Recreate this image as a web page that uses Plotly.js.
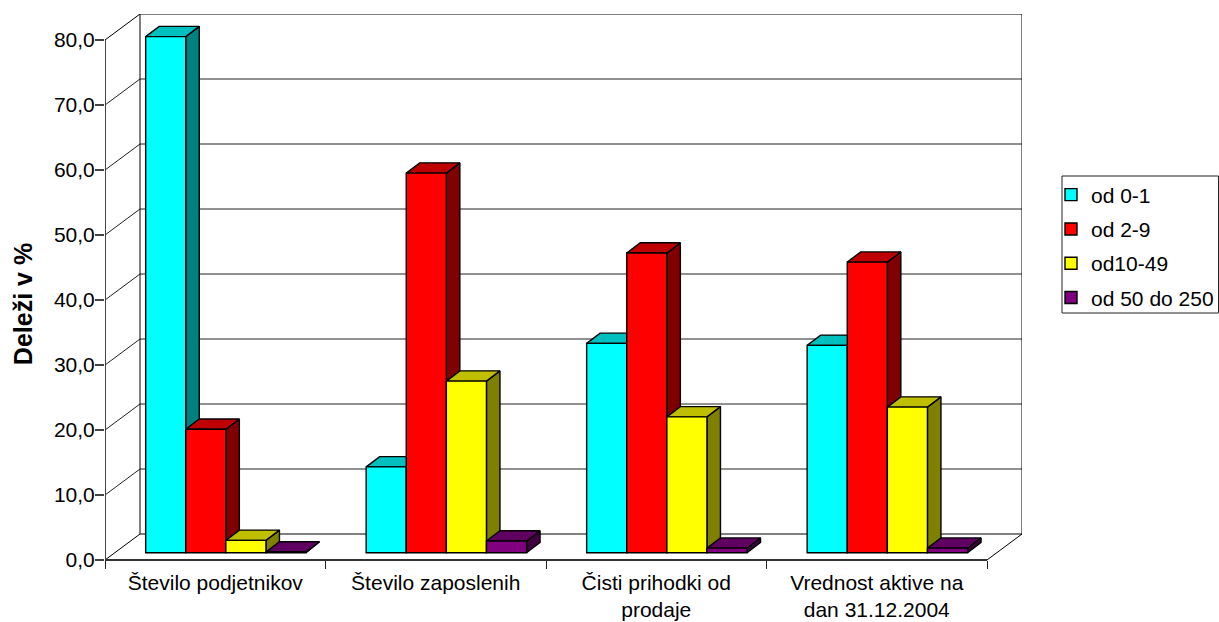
<!DOCTYPE html>
<html>
<head>
<meta charset="utf-8">
<script src="https://cdn.plot.ly/plotly-3.0.1.min.js"></script>
<style>html,body{margin:0;padding:0;background:#fff}#chart{width:1219px;height:622px}</style>
</head>
<body>
<div id="chart"></div>
<script>
const categories = ['Število podjetnikov', 'Število zaposlenih', 'Čisti prihodki od<br>prodaje', 'Vrednost aktive na<br>dan 31.12.2004'];
const seriesNames = ['od 0-1', 'od 2-9', 'od10-49', 'od 50 do 250'];
const od0_1 = [79.4, 13.2, 32.2, 31.9];
const od2_9 = [19.0, 58.4, 46.1, 44.7];
const od10_49 = [1.9, 26.4, 20.9, 22.4];
const od50_250 = [0.1, 1.8, 0.7, 0.7];
const yTicks = [0, 10, 20, 30, 40, 50, 60, 70, 80];
const faceColors = ['#00FFFF', '#FF0000', '#FFFF00', '#800080'];
const topColors = ['#00BFBF', '#BF0000', '#BFBF00', '#600060'];
const sideColors = ['#008080', '#800000', '#808000', '#400040'];
const values = [od0_1, od2_9, od10_49, od50_250];

// Projection of the fake 3D box, in axis units
const WALL_DX = 35 / 220.5, WALL_DY = 4;
const BAR_DX = 13.5 / 220.5, BAR_DY = 1.58;
const BAR_W = 40.1 / 220.5, BAR_BASE = 1.12, BAR_SHIFT = 10.6 / 220.5;
const XL = -0.5, XR = 3.5, YMAX = 80;
const Y_BELOW = 34 / 6.5; // blank range below zero, centres the axis title where the reference has it
const black = '#000';

const traces = [];
function poly(xs, ys, fill, lw) {
  traces.push({type: 'scatter', mode: 'lines', x: xs, y: ys, fill: 'toself', fillcolor: fill,
    line: {color: black, width: lw}, hoverinfo: 'skip', showlegend: false, xaxis: 'x', yaxis: 'y'});
}
function wire(xs, ys, lw, color) {
  traces.push({type: 'scatter', mode: 'lines', x: xs, y: ys,
    line: {color: color || black, width: lw}, hoverinfo: 'skip', showlegend: false, xaxis: 'x', yaxis: 'y'});
}
// gridlines: up the left wall, then along the back wall
yTicks.forEach(v => {
  if (v === 0 || v === YMAX) return;
  wire([XL, XL + WALL_DX, XR + WALL_DX], [v, v + WALL_DY, v + WALL_DY], 1, '#222');
});
// box outline
wire([XL, XL + WALL_DX, XR + WALL_DX, XR + WALL_DX, XR],
     [YMAX, YMAX + WALL_DY, YMAX + WALL_DY, WALL_DY, 0], 1);
wire([XL + WALL_DX, XL + WALL_DX, XR + WALL_DX], [YMAX + WALL_DY, WALL_DY, WALL_DY], 1);
wire([XL, XL + WALL_DX], [0, WALL_DY], 1);
// depth faces, left to right so neighbours overlap correctly
const nBars = values.length;
categories.forEach((c, ci) => {
  values.forEach((vals, si) => {
    const x0 = ci + BAR_SHIFT + (si - nBars / 2) * BAR_W, x1 = x0 + BAR_W;
    const top = BAR_BASE + vals[ci];
    poly([x1, x1 + BAR_DX, x1 + BAR_DX, x1, x1], [BAR_BASE, BAR_BASE + BAR_DY, top + BAR_DY, top, BAR_BASE], sideColors[si], 1.4);
    poly([x0, x0 + BAR_DX, x1 + BAR_DX, x1, x0], [top, top + BAR_DY, top + BAR_DY, top, top], topColors[si], 1.4);
  });
});
// axis lines
wire([XL, XL], [0, YMAX], 1.8, '#333');
wire([XL, XR], [0, 0], 1.8, '#333');
// front faces on the overlaying subplot, above all depth faces
values.forEach((vals, si) => {
  traces.push({type: 'bar', name: seriesNames[si], x: categories.map((c, i) => i), y: vals,
    base: BAR_BASE, width: BAR_W, offset: (si - nBars / 2) * BAR_W + BAR_SHIFT,
    marker: {color: faceColors[si], line: {color: black, width: 1.4}},
    legendgroup: seriesNames[si], xaxis: 'x2', yaxis: 'y2'});
});

const PLOT_H = 580, BOTTOM = 594, LEFT = 105, PLOT_W = 917;
const px = p => (p - LEFT) / PLOT_W, py = p => (BOTTOM - p) / PLOT_H;
const xRange = [XL, XR + WALL_DX], yRange = [-Y_BELOW, YMAX + WALL_DY];
const family = 'Liberation Sans, Arial, sans-serif';
const layout = {
  width: 1219, height: 622, autosize: false,
  margin: {l: LEFT, r: 197, t: 14, b: 28, pad: 0, autoexpand: false},
  paper_bgcolor: '#fff', plot_bgcolor: 'rgba(0,0,0,0)',
  separators: ',.', barmode: 'overlay', showlegend: true,
  font: {family: family, color: black},
  xaxis: {range: xRange, anchor: 'free', position: py(560), tickmode: 'array', tickvals: categories.map((c, i) => i),
    ticktext: categories, ticks: '', tickangle: 0, ticklabelstandoff: 8, tickfont: {family: family, size: 21, color: black},
    minor: {tickmode: 'array', tickvals: [-0.5, 0.5, 1.5, 2.5, 3.5], ticks: 'outside', ticklen: 8, tickwidth: 1, tickcolor: '#222', showgrid: false},
    showgrid: false, zeroline: false, showline: false, fixedrange: true},
  yaxis: {range: yRange, tickmode: 'array', tickvals: yTicks, tickformat: '.1f',
    ticks: 'outside', ticklen: 9, tickwidth: 1.2, tickcolor: '#444', ticklabelstandoff: -4,
    tickfont: {family: family, size: 21, color: black},
    showgrid: false, zeroline: false, showline: false, fixedrange: true,
    title: {text: '<b>Deleži v %</b>', font: {family: family, size: 25, color: black}, standoff: 14}},
  xaxis2: {range: xRange, overlaying: 'x', visible: false, fixedrange: true},
  yaxis2: {range: yRange, overlaying: 'y', visible: false, fixedrange: true},
  legend: {x: px(1051), y: py(174.5), xanchor: 'left', yanchor: 'top',
    traceorder: 'grouped', tracegroupgap: 4, bgcolor: 'rgba(0,0,0,0)', borderwidth: 0,
    font: {family: family, size: 21, color: black}},
  shapes: [{type: 'rect', xref: 'paper', yref: 'paper', layer: 'below',
    x0: px(1062), x1: px(1218.5), y0: py(313), y1: py(176),
    line: {color: '#222', width: 1}, fillcolor: 'rgba(0,0,0,0)'}]
};
Plotly.newPlot('chart', traces, layout, {displayModeBar: false, staticPlot: true});
</script>
</body>
</html>
